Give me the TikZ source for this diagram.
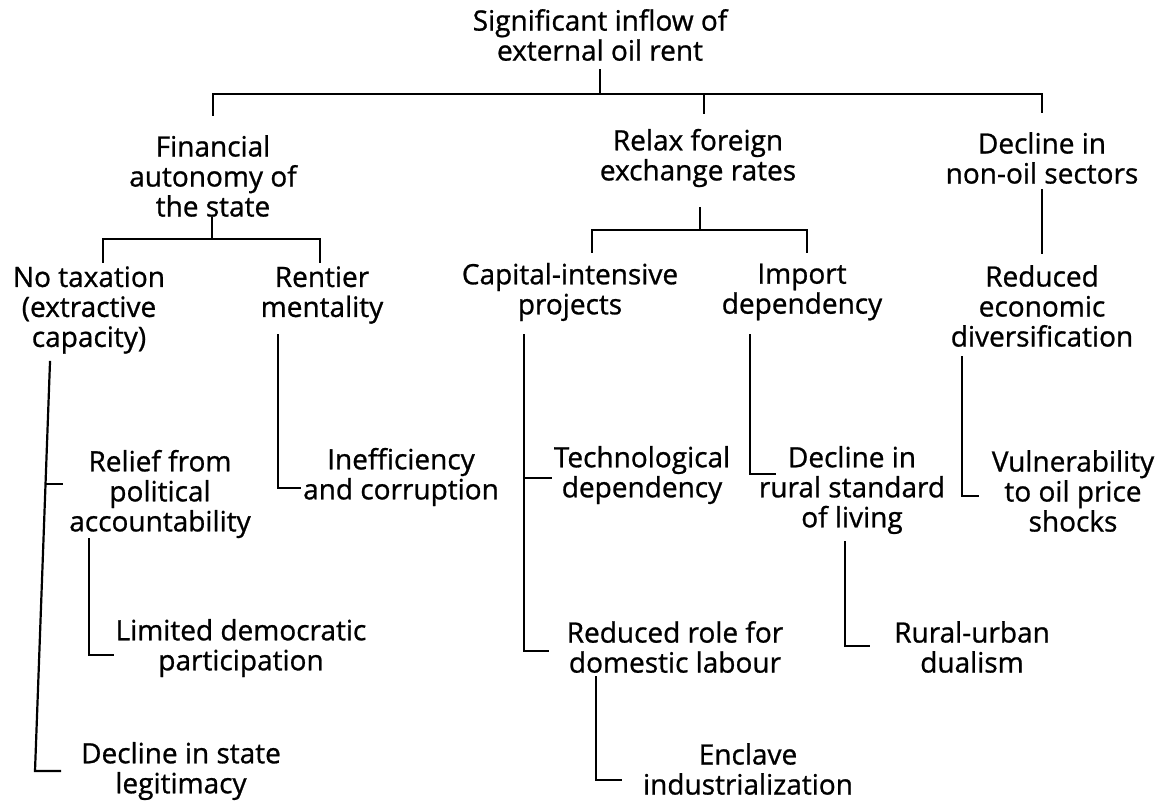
\documentclass[tikz,border=0pt]{standalone}
\usepackage{fontspec}
\setmainfont{Open Sans}
\newfontfamily\lblfont{Open Sans}[FakeBold=0.9]
\usetikzlibrary{calc}
\begin{document}
\begin{tikzpicture}[x=1pt,y=-1pt,
  lbl/.style={align=center,inner sep=0pt,font=\lblfont\fontsize{28}{30}\selectfont},
  conn/.style={line width=2.2pt,line cap=rect}]
\useasboundingbox[fill=white] (0,0) rectangle (1164,801);
% nodes
\node[lbl] (top) at (600,35) {Significant inflow of\\external oil rent};
\node[lbl] (fin) at (213,176) {Financial\\autonomy of\\the state};
\node[lbl] (relax) at (698,158) {Relax foreign\\exchange rates};
\node[lbl] (declNO) at (1042,158) {Decline in\\non-oil sectors};
\node[lbl] (notax) at (89,310) {No taxation\\(extractive\\capacity)};
\node[lbl] (rentier) at (322,295) {Rentier\\mentality};
\node[lbl] (capint) at (570,292) {Capital-intensive\\projects};
\node[lbl] (import) at (802,292) {Import\\dependency};
\node[lbl] (redEco) at (1042,306) {Reduced\\economic\\diversification};
\node[lbl] (relief) at (160,494) {Relief from\\political\\accountability};
\node[lbl] (ineff) at (401,477) {Inefficiency\\and corruption};
\node[lbl] (tech) at (642,475) {Technological\\dependency};
\node[lbl] (declRural) at (852,490) {Decline in\\rural standard\\of living};
\node[lbl] (vuln) at (1073,491) {Vulnerability\\to oil price\\shocks};
\node[lbl] (limited) at (241,648) {Limited democratic\\participation};
\node[lbl] (redRole) at (675,647) {Reduced role for\\domestic labour};
\node[lbl] (rural) at (972,647) {Rural-urban\\dualism};
\node[lbl] (declState) at (181,771) {Decline in state\\legitimacy};
\node[lbl] (enclave) at (748,769) {Enclave\\industrialization};
% top level
\coordinate (tj) at (600,94);
\draw[conn] ($(top)+(0,35)$) -- (tj);
\draw[conn] ($(fin)+(0,-61)$) -- (fin |- tj) -- (declNO |- tj) -- ($(declNO)+(0,-46)$);
\draw[conn] ($(relax)+(6,-45)$) -- ($(relax)+(6,-64)$);
% financial autonomy
\coordinate (aj) at ($(fin)+(-1,63)$);
\draw[conn] ($(fin)+(-1,42)$) -- (aj);
\draw[conn] ($(notax)+(14,-48)$) |- (aj) -| ($(rentier)+(-2,-33)$);
% relax foreign exchange
\coordinate (bj) at ($(relax)+(2,72)$);
\draw[conn] ($(relax)+(2,50)$) -- (bj);
\draw[conn] ($(capint)+(22,-40)$) |- (bj) -| ($(import)+(5,-40)$);
% decline in non-oil
\draw[conn] ($(declNO)+(0,32)$) -- ($(redEco)+(0,-53)$);
% no taxation
\draw[conn] ($(notax)+(-39,52)$) -- ($(declState)+(-146,0)$) -- ($(declState)+(-121,0)$);
\draw[conn] ($(relief)+(-114,-10)$) -- ($(relief)+(-98,-10)$);
% rentier
\draw[conn] ($(rentier)+(-44,40)$) |- ($(ineff)+(-101,11)$);
% relief
\draw[conn] ($(relief)+(-71,45)$) |- ($(limited)+(-128,7)$);
% capital intensive
\draw[conn] ($(capint)+(-46,43)$) |- ($(redRole)+(-127,4)$);
\draw[conn] ($(tech)+(-118,3)$) -- ($(tech)+(-91,3)$);
\draw[conn] ($(redRole)+(-79,30)$) |- ($(enclave)+(-127,11)$);
% import
\draw[conn] ($(import)+(-52,43)$) |- ($(declRural)+(-77,-16)$);
\draw[conn] ($(declRural)+(-7,52)$) |- ($(rural)+(-103,-1)$);
% reduced economic
\draw[conn] ($(redEco)+(-80,51)$) |- ($(vuln)+(-95,5)$);
\end{tikzpicture}
\end{document}
